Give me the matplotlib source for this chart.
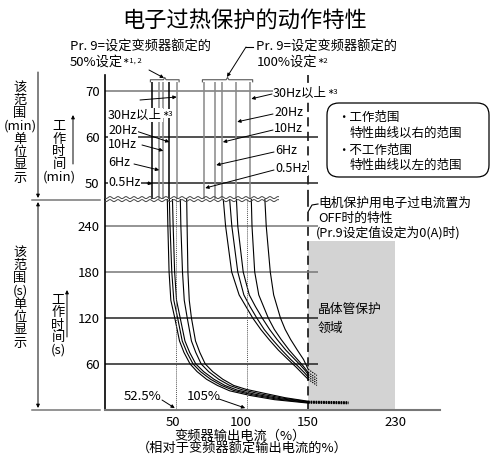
import numpy as np
import matplotlib.pyplot as plt
from matplotlib.transforms import Affine2D
from matplotlib.patches import FancyBboxPatch
from matplotlib.lines import Line2D

plt.rcParams['font.family'] = ['Noto Sans CJK SC', 'DejaVu Sans']
plt.rcParams['font.size'] = 9

W, H = 492, 457

# ---------------- data ----------------
x_ticks = [50, 100, 150, 230]
min_ticks = [50, 60, 70]
sec_ticks = [60, 120, 180, 240]

freq_labels = ['0.5Hz', '6Hz', '10Hz', '20Hz', '30Hz以上']

# minute range: near-vertical characteristic lines (% of rated current)
lines_50 = [34.8, 40.0, 43.0, 47.5, 52.9]
lines_50_color = ['k', '#888', '#888', 'k', '#888']
lines_100 = [73.2, 81.3, 86.2, 96.8, 107.2]
# where the label arrows hit the lines (min)
tips_50_min = [49.8, 52.8, 57.0, 58.9, 68.7]
tips_100_min = [48.9, 53.9, 58.9, 63.3, 68.3]

# second range: curves for Pr.9 = 50 % setting
L_x = [
    [46.0, 46.4, 47.3, 48.6, 51.5, 55.0, 58.3, 62.8, 68.0, 75.0, 83.0, 92.0, 107, 125, 150],
    [47.5, 48.0, 49.3, 50.8, 53.6, 57.0, 60.5, 65.0, 70.5, 78.0, 86.0, 95.0, 109, 127, 150],
    [49.8, 50.3, 51.4, 52.8, 55.5, 59.0, 62.5, 67.0, 72.8, 80.5, 88.5, 97.5, 111, 129, 150],
    [55.6, 56.0, 57.2, 58.5, 60.7, 63.8, 67.0, 71.0, 76.5, 84.0, 92.0, 101, 114, 131, 150],
    [60.3, 60.6, 61.2, 62.2, 63.8, 66.8, 70.0, 74.0, 79.5, 87.0, 95.0, 104, 117, 133, 150],
]
L_t = [
    [275, 240, 180, 143, 120, 90, 75, 60, 50, 40, 32, 25.0, 19.0, 13.5, 9.0],
    [275, 240, 180, 143, 120, 90, 75, 60, 50, 40, 32, 25.5, 19.8, 14.2, 9.6],
    [275, 240, 180, 143, 120, 90, 75, 60, 50, 40, 32, 26.0, 20.5, 14.8, 10.2],
    [275, 240, 180, 143, 120, 90, 75, 60, 50, 40, 32, 26.5, 21.2, 15.5, 10.8],
    [275, 240, 180, 143, 120, 90, 75, 60, 50, 40, 32, 27.0, 22.0, 16.0, 11.4],
]
# second range: curves for Pr.9 = 100 % setting
R_x = [
    [87.3, 89.0, 93.5, 99.0, 104.0, 109.0, 115.0, 121.0, 128.0, 135.0, 141.0, 146.0, 150],
    [92.0, 93.6, 98.0, 102.5, 107.0, 112.0, 117.5, 123.5, 130.5, 137.0, 142.5, 147.0, 150],
    [97.0, 98.0, 102.0, 106.5, 111.0, 116.0, 121.5, 127.0, 133.5, 139.5, 144.5, 148.0, 150],
    [108.0, 108.5, 110.5, 113.5, 117.0, 120.5, 125.0, 130.0, 136.0, 141.5, 146.0, 150],
    [118.0, 119.0, 122.0, 124.5, 127.0, 129.5, 133.0, 137.0, 142.0, 146.5, 150],
]
R_t = [
    [275, 240, 180, 150, 135, 120, 105, 92, 78, 66, 56, 47, 40],
    [275, 240, 180, 150, 135, 120, 105, 92, 78, 66, 57, 49, 43],
    [275, 240, 180, 150, 135, 120, 105, 92, 78, 67, 58, 51, 46],
    [275, 240, 180, 150, 135, 120, 105, 92, 78, 67, 58, 49],
    [275, 240, 180, 150, 135, 120, 105, 92, 78, 66, 53],
]
off_limit = 150          # OFF characteristic (%)
tr_region = (150, 230)   # transistor protection region (%)
tr_top = 220             # s

# ---------------- scale: compressed above 150 % ----------------
K = 0.804


def fwd(x):
    x = np.asarray(x, float)
    return np.where(x <= 150, x, 150 + (x - 150) * K)


def inv(y):
    y = np.asarray(y, float)
    return np.where(y <= 150, y, 150 + (y - 150) / K)


fig = plt.figure(figsize=(W / 100, H / 100), dpi=100)
px = Affine2D().scale(1 / W, -1 / H).translate(0, 1) + fig.transFigure


def box(l, t, r, b):
    return [l / W, 1 - b / H, (r - l) / W, (b - t) / H]


ax_m = fig.add_axes(box(105, 75, 440, 199))
ax_s = fig.add_axes(box(105, 199, 440, 410))
for ax in (ax_m, ax_s):
    ax.set_xscale('function', functions=(fwd, inv))
    ax.set_xlim(0, 271)
    for s in ('top', 'right'):
        ax.spines[s].set_visible(False)
    ax.spines['left'].set_linewidth(1.2)
    ax.tick_params(axis='y', length=0, pad=4, labelsize=9.5)
    ax.axvline(off_limit, color='k', lw=1.1, ls=(0, (6, 3.5)), zorder=2)

ax_m.spines['bottom'].set_visible(False)
ax_m.set_xticks([])
ax_m.set_ylim(46.52, 73.48)
ax_m.set_yticks(min_ticks)
ax_s.set_ylim(0, 275)
ax_s.set_yticks(sec_ticks)
ax_s.set_xticks(x_ticks)
ax_s.set_xticklabels([str(v) for v in x_ticks])
ax_s.tick_params(axis='x', length=0, pad=4, labelsize=9.5)
ax_s.spines['bottom'].set_color('#777')
ax_s.spines['bottom'].set_linewidth(1.5)

# grid lines
ax_m.hlines(70, 0, 159, color='#777', lw=1.1)
ax_m.hlines([50, 60], 0, 159, color='#222', lw=1.1)
ax_s.hlines([180, 240], 0, 159, color='#777', lw=1.1)
ax_s.hlines([60, 120], 0, 159, color='#222', lw=1.1)

# transistor protection region
ax_s.fill_between(tr_region, 0, tr_top, color='#d3d3d3', lw=0, zorder=0)

# minute range vertical lines
ax_m.vlines(lines_50, 46.52, 71.96, colors=lines_50_color, lw=1.1)
ax_m.vlines(lines_100, 46.52, 71.96, colors='#888', lw=1.1)

# braces above the groups
for grp in (lines_50, lines_100):
    x0, x1 = min(grp) - 1.3, max(grp) + 1.8
    xm = (x0 + x1) / 2
    ax_m.plot([x0, x0, xm - 1, xm, xm + 1, x1, x1],
              [72.0, 72.45, 72.45, 72.95, 72.45, 72.45, 72.0],
              color='#555', lw=0.8, clip_on=False)

# second range curves
for xs, ts in zip(L_x, L_t):
    ax_s.plot(xs, ts, color='k', lw=0.8)
    ax_s.plot([xs[-1], 187], [ts[-1], ts[-1] - 0.8], color='k', lw=0.9,
              ls=(0, (1.2, 0.8)))
for xs, ts in zip(R_x, R_t):
    ax_s.plot(xs, ts, color='k', lw=0.8)
    ax_s.plot([xs[-1], 158], [ts[-1], ts[-1] - 8], color='k', lw=0.8,
              ls=(0, (1.2, 1.0)))
ax_s.vlines([52.5, 105], 0, 275, colors='#555', lw=0.7, ls=(0, (1, 1)))

# wavy break
wx = np.arange(105, 279, 0.5)
for y0 in (197.6, 200.6):
    fig.add_artist(Line2D(wx, y0 + 1.0 * np.sin(2 * np.pi * wx / 8),
                          transform=px, color='#444', lw=0.7))

arw = dict(arrowstyle='-|>', lw=0.7, color='k', mutation_scale=5,
           shrinkA=0, shrinkB=0)


def text(x, y, s, sup=None, size=9, bg=False, **kw):
    kw.setdefault('va', 'center')
    bb = dict(fc='white', ec='none', pad=0.4) if bg else None
    t = fig.text(x, y, s, transform=px, fontsize=size, bbox=bb, **kw)
    if sup:
        ax_m.annotate(sup, xy=(1, 0.6), xycoords=t, fontsize=5.5,
                      va='center', ha='left', annotation_clip=False,
                      bbox=bb)
    return t


# title
text(245, 20, '电子过热保护的动作特性', size=16, ha='center')

# Pr.9 headers
text(70, 47, 'Pr. 9=设定变频器额定的', size=9.5)
text(70, 62, '50%设定', '∗1, 2', size=9.5)
text(256, 47, 'Pr. 9=设定变频器额定的', size=9.5)
text(257, 62, '100%设定', '∗2', size=9.5)
fig.add_artist(Line2D([253, 246], [47, 47], transform=px, color='k', lw=0.8))
ax_m.annotate('', xy=(227, 77), xycoords=px, xytext=(246, 47), textcoords=px,
              arrowprops=arw, annotation_clip=False)
ax_m.annotate('', xy=(164, 78), xycoords=px, xytext=(149, 70), textcoords=px,
              arrowprops=arw, annotation_clip=False)

# frequency labels (50 % group, left side)
left_pos = [(108, 182), (108, 163), (108, 144), (108, 130), (108, 115)]
left_from = [(147, 183), (134, 164), (142, 145), (136, 131), (140, 100)]
for lab, (x, y), src, lx, tm in zip(freq_labels, left_pos, left_from,
                                     lines_50, tips_50_min):
    text(x, y, lab, '∗3' if '以上' in lab else None, bg=True)
    ax_m.annotate('', xy=(lx, tm), xytext=src, textcoords=px,
                  arrowprops=arw, annotation_clip=False)

# frequency labels (100 % group, right side)
right_pos = [(274, 169), (274, 151), (273, 129), (273, 113), (272, 93)]
for lab, (x, y), lx, tm in zip(freq_labels, right_pos, lines_100,
                               tips_100_min):
    text(x + 1, y, lab, '∗3' if '以上' in lab else None, bg=True)
    ax_m.annotate('', xy=(lx + 0.8, tm), xytext=(x, y + 1), textcoords=px,
                  arrowprops=arw, annotation_clip=False)

# explanation box
fig.add_artist(FancyBboxPatch((327, 103), 162, 74,
                              boxstyle='round,pad=0,rounding_size=12',
                              transform=px, fill=False, ec='k', lw=0.9))
text(337, 117, '・工作范围')
text(350, 133, '特性曲线以右的范围')
text(337, 150, '・不工作范围')
text(350, 165, '特性曲线以左的范围')

# OFF characteristic note
fig.add_artist(Line2D([308, 312, 318], [212, 205, 204], transform=px,
                      color='k', lw=0.8))
text(318, 203, '电机保护用电子过电流置为', size=9.2)
text(318, 218, 'OFF时的特性', size=9.2)
text(316, 233, '(Pr.9设定值设定为0(A)时)', size=9.2)

# transistor protection
text(318, 309, '晶体管保护', size=9.2)
text(318, 328, '领域', '∗4', size=9.2)

# 52.5 % and 105 %
text(124, 397, '52.5%', size=9.5)
ax_s.annotate('', xy=(51.5, 2.5), xytext=(162, 400), textcoords=px,
              arrowprops=arw, annotation_clip=False)
text(187, 397, '105%', size=9.5)
ax_s.annotate('', xy=(103.5, 2.5), xytext=(219, 399), textcoords=px,
              arrowprops=arw, annotation_clip=False)

# x axis labels
text(240, 436, '变频器输出电流（%）', size=9.5, ha='center')
text(242, 449, '（相对于变频器额定输出电流的%）', size=9.5, ha='center')

# left side: range indicators
for y in (200, 410):
    fig.add_artist(Line2D([32, 100], [y, y], transform=px, color='#777', lw=1.1))
ax_m.annotate('', xy=(38, 198), xycoords=px, xytext=(38, 72), textcoords=px,
              arrowprops=dict(arw, arrowstyle='-|>'), annotation_clip=False)
ax_m.annotate('', xy=(38, 408), xycoords=px, xytext=(38, 202), textcoords=px,
              arrowprops=dict(arw, arrowstyle='<|-|>'), annotation_clip=False)
text(20, 133, '该\n范\n围\n(min)\n单\n位\n显\n示', ha='center',
     linespacing=1.0, size=9.5)
text(20, 298, '该\n范\n围\n(s)\n单\n位\n显\n示', ha='center',
     linespacing=1.0, size=9.5)
text(59, 152, '工\n作\n时\n间\n(min)', ha='center', linespacing=0.95, size=9.5)
text(58, 325, '工\n作\n时\n间\n(s)', ha='center', linespacing=0.95, size=9.5)
ax_m.annotate('', xy=(73, 115), xycoords=px, xytext=(73, 164), textcoords=px,
              arrowprops=arw, annotation_clip=False)
ax_m.annotate('', xy=(67, 290), xycoords=px, xytext=(67, 337), textcoords=px,
              arrowprops=arw, annotation_clip=False)

plt.savefig('out.png', dpi=100)
